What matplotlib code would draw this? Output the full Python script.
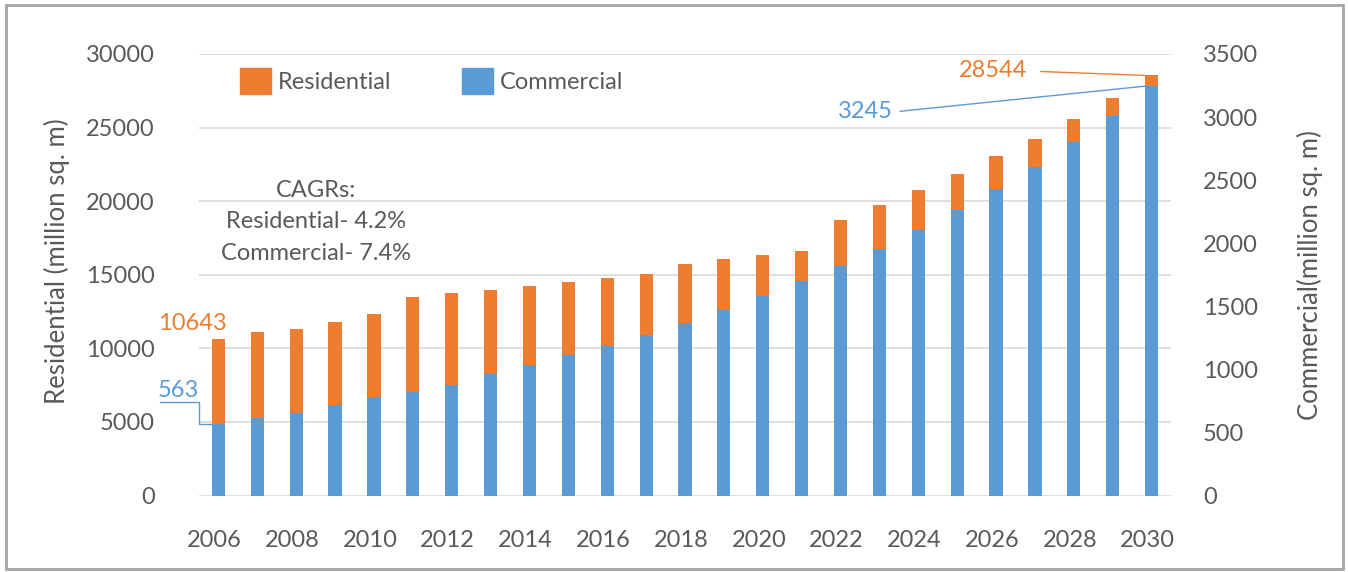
import numpy as np
import matplotlib
matplotlib.use('Agg')
import matplotlib.pyplot as plt
from matplotlib.patches import Patch
from matplotlib.transforms import ScaledTranslation

# Data
years = list(range(2006, 2031))
residential = [10643, 11120, 11320, 11800, 12345, 13500, 13770, 13975, 14245, 14520,
               14790, 15060, 15720, 16060, 16330, 16600, 18720, 19740, 20760, 21850,
               23080, 24220, 25590, 27010, 28544]
commercial = [563, 618, 655, 719, 777, 824, 877, 967, 1036, 1115,
              1189, 1273, 1368, 1474, 1585, 1701, 1823, 1955, 2108, 2266,
              2430, 2605, 2805, 3011, 3245]
res_ticks = [0, 5000, 10000, 15000, 20000, 25000, 30000]
com_ticks = [0, 500, 1000, 1500, 2000, 2500, 3000, 3500]
cagr_text = "CAGRs:\nResidential- 4.2%\nCommercial- 7.4%"

ORANGE = '#ED7D31'
BLUE = '#5B9BD5'
TXT = '#595959'
FS = 17

plt.rcParams['font.family'] = ['Lato', 'DejaVu Sans']

W, H = 1348, 572
fig = plt.figure(figsize=(W / 100, H / 100), dpi=100)
ax = fig.add_axes([199 / W, 1 - 495.5 / H, (1171 - 199) / W, (495.5 - 54) / H])
ax2 = ax.twinx()

x = np.arange(len(years))
bw = 0.34
ax.bar(x, residential, width=bw, color=ORANGE, zorder=2)
ax2.bar(x, commercial, width=bw, color=BLUE, zorder=2)

ax.set_xlim(-0.5, len(years) - 0.5)
ax.set_ylim(0, 30000)
ax2.set_ylim(0, 3500)
ax.set_yticks(res_ticks)
ax2.set_yticks(com_ticks)
ax.set_yticklabels([str(t) for t in res_ticks])
ax2.set_yticklabels([str(t) for t in com_ticks])
ax.set_xticks(x[::2])
ax.set_xticklabels([str(y) for y in years[::2]])

ax.yaxis.grid(True, color='#D9D9D9', linewidth=1.2, zorder=0)
ax.set_axisbelow(True)
for a in (ax, ax2):
    for s in a.spines.values():
        s.set_visible(False)
ax.tick_params(axis='y', length=0, pad=32, labelsize=FS, labelcolor=TXT)
ax2.tick_params(axis='y', length=0, pad=23, labelsize=FS, labelcolor=TXT)
ax.tick_params(axis='x', length=0, pad=25, labelsize=FS, labelcolor=TXT)
for lab in ax2.get_yticklabels():
    lab.set_horizontalalignment('left')
shift = ScaledTranslation(-4 / 100, 0, fig.dpi_scale_trans)
for lab in ax.get_xticklabels():
    lab.set_transform(lab.get_transform() + shift)

ax.set_ylabel('Residential (million sq. m)', fontsize=18.5, color=TXT)
ax.yaxis.set_label_coords((70 - 199) / 972, 0.53)
ax2.set_ylabel('Commercial(million sq. m)', fontsize=18.5, color=TXT)
ax2.yaxis.set_label_coords((1297 - 199) / 972, 0.5)

# legend
handles = [Patch(color=ORANGE, label='Residential'), Patch(color=BLUE, label='Commercial')]
fig.legend(handles=handles, loc='upper left', bbox_to_anchor=(240 / W, 1 - 68 / H),
           ncol=2, frameon=False, fontsize=FS, labelcolor=TXT, borderpad=0,
           borderaxespad=0, handlelength=1.3, handleheight=1.3, handletextpad=0.3,
           columnspacing=3.0)

# CAGR note
fig.text(316 / W, 1 - 222 / H, cagr_text, ha='center', va='center', fontsize=FS,
         color=TXT, linespacing=1.6, multialignment='center')

# data labels, first year (leader line drawn in data units of the commercial axis)
ax.text(-1.55, residential[0] + 1077, str(residential[0]), color=ORANGE, fontsize=FS,
        ha='left', va='center', clip_on=False)
ax2.text(-1.55, commercial[0] + 273, str(commercial[0]), color=BLUE, fontsize=FS,
         ha='left', va='center', clip_on=False)
ax2.plot([-1.5, -0.5, -0.5, x[0] - bw / 2], [commercial[0] + 179, commercial[0] + 179,
         commercial[0], commercial[0]], color=BLUE, lw=1, clip_on=False)

# data labels, last year
i = len(years) - 1
ax.annotate(str(residential[i]), xy=(x[i] - bw / 2, residential[i]), xytext=(-85, 3.2),
            textcoords='offset points', color=ORANGE, fontsize=FS,
            ha='right', va='center', annotation_clip=False,
            arrowprops=dict(arrowstyle='-', color=ORANGE, lw=1, shrinkA=8, shrinkB=0,
                            relpos=(1, 0.5)))
ax2.annotate(str(commercial[i]), xy=(x[i] - bw / 2, commercial[i]), xytext=(-181.4, -18.6),
             textcoords='offset points', color=BLUE, fontsize=FS,
             ha='right', va='center', annotation_clip=False,
             arrowprops=dict(arrowstyle='-', color=BLUE, lw=1, shrinkA=3, shrinkB=0,
                             relpos=(1, 0.5)))

# chart border
fig.add_artist(plt.Rectangle((6 / W, 3 / H), 1 - 11 / W, 1 - 8 / H, transform=fig.transFigure,
                             fill=False, edgecolor='#A6A6A6', linewidth=2))

fig.savefig('out.png', dpi=100)
